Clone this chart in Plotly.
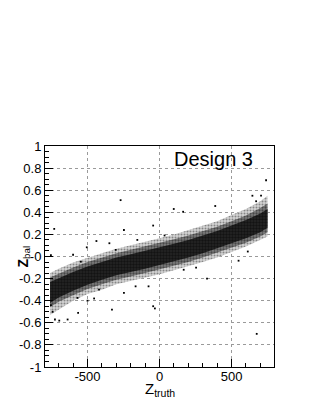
import plotly.graph_objects as go

# band sample positions along Z_truth
XB = [-760, -700, -600, -500, -400, -300, -200, -100, 0, 100, 200, 300, 400, 500, 600, 700, 750]
# dense core of the distribution
core_hi = [-0.23, -0.195, -0.14, -0.09, -0.05, -0.01, 0.02, 0.05, 0.08, 0.115, 0.15, 0.19, 0.23, 0.28, 0.33, 0.39, 0.43]
core_lo = [-0.42, -0.37, -0.31, -0.255, -0.21, -0.17, -0.14, -0.11, -0.08, -0.045, -0.01, 0.03, 0.07, 0.12, 0.165, 0.22, 0.26]
# medium density shell
mid_hi = [-0.19, -0.155, -0.10, -0.05, -0.01, 0.03, 0.06, 0.09, 0.12, 0.155, 0.19, 0.23, 0.27, 0.32, 0.37, 0.44, 0.48]
mid_lo = [-0.46, -0.41, -0.35, -0.295, -0.25, -0.21, -0.18, -0.15, -0.12, -0.085, -0.05, -0.01, 0.03, 0.08, 0.125, 0.18, 0.22]
# sparse outer shell
out_hi = [-0.15, -0.11, -0.055, -0.01, 0.03, 0.07, 0.10, 0.13, 0.165, 0.20, 0.24, 0.28, 0.32, 0.375, 0.43, 0.50, 0.55]
out_lo = [-0.53, -0.48, -0.40, -0.34, -0.30, -0.25, -0.22, -0.19, -0.16, -0.125, -0.09, -0.05, -0.01, 0.04, 0.09, 0.15, 0.18]

# isolated outlier entries
out_x = [-731, -270, -754, -600, -505, -438, -247, -348, -304, -44, 35, 99, 164, 387, 645, 705, 740, 671,
         613, 549, 675, 330, -32, -44, -330, -76, -247, -500, -565, -726, -696, -638, -754, -742, -454,
         254, 168, -569, -420, -166, -154, -546]
out_y = [0.25, 0.51, 0.013, 0.016, 0.083, 0.14, 0.24, 0.12, 0.06, 0.28, 0.19, 0.43, 0.405, 0.457, 0.55, 0.55, 0.69, 0.50,
         0.045, -0.038, -0.70, -0.20, -0.47, -0.45, -0.48, -0.27, -0.33, -0.40, -0.51, -0.57, -0.58, -0.57, -0.44, -0.50, -0.38,
         -0.10, -0.12, -0.375, -0.30, -0.27, 0.15, -0.047]

y_tickvals = [1, 0.8, 0.6, 0.4, 0.2, 0, -0.2, -0.4, -0.6, -0.8, -1]
y_ticktext = ["1", "0.8", "0.6", "0.4", "0.2", "-0", "-0.2", "-0.4", "-0.6", "-0.8", "-1"]
x_tickvals = [-500, 0, 500]
x_ticktext = ["-500", "0", "500"]

FONT = "Liberation Sans, Arial, sans-serif"


def band(lo, hi, fill, pat_fg, solidity):
    return go.Scatter(
        x=XB + XB[::-1], y=hi + lo[::-1], mode="lines", fill="toself",
        line=dict(width=0), fillcolor=fill,
        fillpattern=dict(shape=".", fgcolor=pat_fg, bgcolor=fill, size=3, solidity=solidity),
        hoverinfo="skip", showlegend=False)


fig = go.Figure()
fig.add_trace(band(out_lo, out_hi, "#d2d2d2", "#3a3a3a", 0.35))
fig.add_trace(band(mid_lo, mid_hi, "#7c7c7c", "#111111", 0.45))
fig.add_trace(band(core_lo, core_hi, "#262626", "#000000", 0.5))
fig.add_trace(go.Scatter(x=out_x, y=out_y, mode="markers",
                         marker=dict(symbol="square", size=1.8, color="black", line=dict(width=0)),
                         showlegend=False, hoverinfo="skip"))

fig.add_annotation(text="Design 3", x=0.735, y=1.0, xref="paper", yref="paper",
                   xanchor="center", yanchor="top", showarrow=False,
                   font=dict(family=FONT, size=20, color="black"))
fig.add_annotation(text="Z<sub>truth</sub>", x=0.5, y=-0.05, xref="paper", yref="paper",
                   xanchor="center", yanchor="top", showarrow=False,
                   font=dict(family=FONT, size=15, color="black"))
fig.add_annotation(text="<b>Z</b><sub>bal</sub>", x=-0.096, y=0.5, xref="paper", yref="paper",
                   xanchor="center", yanchor="middle", showarrow=False, textangle=-90,
                   font=dict(family=FONT, size=14, color="black"))

axis_common = dict(showline=True, linecolor="black", linewidth=1, mirror=True,
                   ticks="inside", tickcolor="black", tickwidth=1, automargin=False,
                   showgrid=True, gridcolor="#9a9a9a", griddash="dot", gridwidth=1,
                   zeroline=False, tickfont=dict(family=FONT, size=13, color="black"))

fig.update_xaxes(range=[-795, 795], tickvals=x_tickvals, ticktext=x_ticktext, ticklen=8,
                 ticklabelstandoff=-3,
                 minor=dict(dtick=100, tick0=0, ticks="inside", ticklen=4, tickcolor="black", showgrid=False),
                 **axis_common)
fig.update_yaxes(range=[-1, 1], tickvals=y_tickvals, ticktext=y_ticktext, ticklen=8,
                 minor=dict(dtick=0.05, tick0=0, ticks="inside", ticklen=4, tickcolor="black", showgrid=False),
                 **axis_common)

# page body has an 8px margin, so the figure is offset by 8px
fig.update_layout(width=304, height=395, autosize=False,
                  margin=dict(l=37, r=38, t=138, b=36, pad=0),
                  paper_bgcolor="white", plot_bgcolor="white",
                  font=dict(family=FONT, color="black"))

fig.write_html("out.html")
